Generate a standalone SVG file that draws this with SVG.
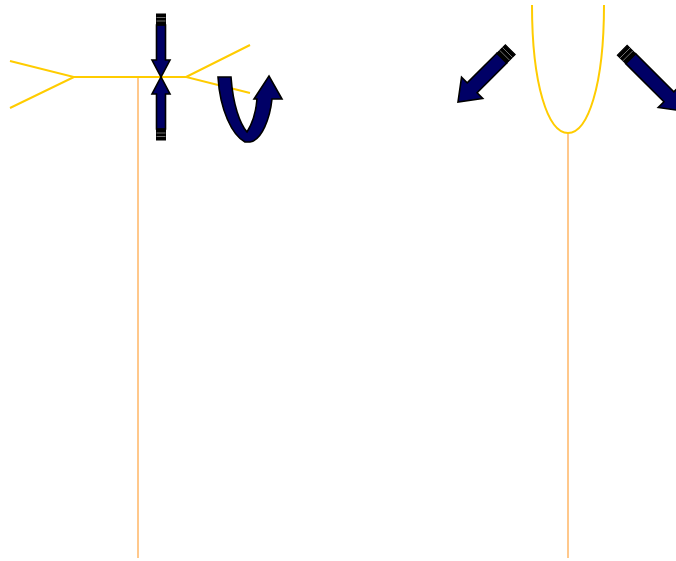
<svg xmlns="http://www.w3.org/2000/svg" width="676" height="561" viewBox="0 0 676 561">
<style>
.y{fill:none;stroke:#ffcc00;stroke-width:2}
.o{fill:none;stroke:#ffc88c;stroke-width:2}
.a{fill:#000066;stroke:#000;stroke-width:1.6;stroke-linejoin:miter}
.cap{fill:#000;stroke:#000;stroke-width:1}
.st{stroke:#888;stroke-width:0.8}
</style>
<defs>
<g id="pen">
<path class="a" d="M-4.5,-52 V-17 H-9 L0,0 L9,-17 H4.5 V-52 Z"/>
<rect class="cap" x="-4.5" y="-63" width="9" height="11"/>
<line class="st" x1="-4.5" y1="-59.5" x2="4.5" y2="-59.5"/>
<line class="st" x1="-4.5" y1="-56" x2="4.5" y2="-56"/>
</g>
<g id="bigpen">
<path class="a" d="M-7,-62 V-20 H-15 L0,0 L15,-20 H7 V-62 Z"/>
<rect class="cap" x="-7" y="-74" width="14" height="12"/>
<line class="st" x1="-7" y1="-70" x2="7" y2="-70"/>
<line class="st" x1="-7" y1="-66" x2="7" y2="-66"/>
</g>
<g id="longpen">
<path class="a" d="M-7,-74 V-20 H-15 L0,0 L15,-20 H7 V-74 Z"/>
<rect class="cap" x="-7" y="-86" width="14" height="12"/>
<line class="st" x1="-7" y1="-82" x2="7" y2="-82"/>
<line class="st" x1="-7" y1="-78" x2="7" y2="-78"/>
</g>
</defs>
<g id="connectors">
<line class="o" x1="138" y1="77" x2="138" y2="558"/>
<line class="o" x1="568" y1="133" x2="568" y2="558"/>
<polyline class="y" points="10,61 74,77 10,108"/>
<line class="y" x1="74" y1="77" x2="186" y2="77"/>
<polyline class="y" points="250,45 186,77 250,93"/>
<path class="y" d="M532,5 C532,85 548,133 568,133 C588,133 604,85 604,5"/>
</g>
<g id="arrow-down"><use href="#pen" transform="translate(161,77)"/></g>
<g id="arrow-up"><use href="#pen" transform="translate(161,77) rotate(180)"/></g>
<g id="uturn">
<path class="a" d="M218,77 L231,77 C233,105 240,124 247,132 C252,124 256,112 257,99 L254,99 L269,76 L282,99 L272,99 C270,118 262,140 250,142 L245,142 C232,135 220,110 218,77 Z"/>
</g>
<g id="arrow-left"><use href="#bigpen" transform="translate(458,102) rotate(45)"/></g>
<g id="arrow-right"><use href="#longpen" transform="translate(683,111) rotate(-45)"/></g>
</svg>
